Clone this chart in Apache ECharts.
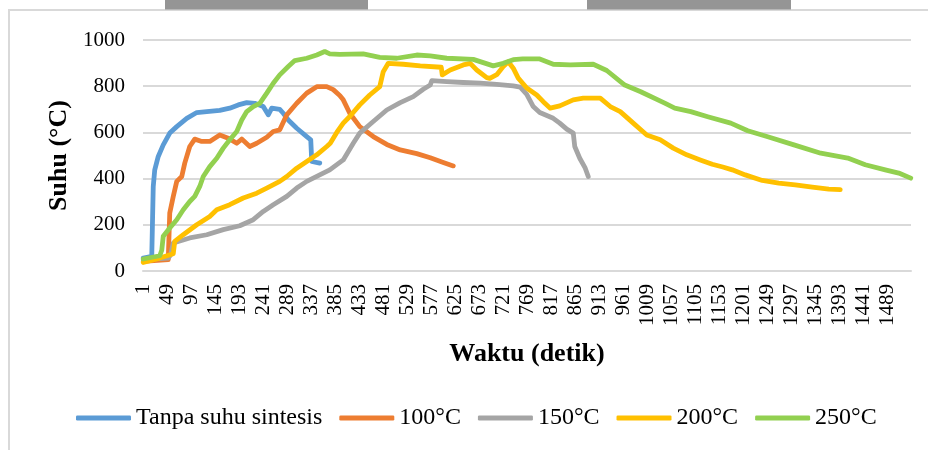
<!DOCTYPE html>
<html>
<head>
<meta charset="utf-8">
<script src="https://cdn.jsdelivr.net/npm/echarts@6/dist/echarts.min.js"></script>
<style>
html,body{margin:0;padding:0;background:#fff;}
#chart{width:928px;height:450px;}
</style>
</head>
<body>
<div id="chart"></div>
<script>
// Category axis: seconds 1..1536
const categoryCount = 1536;
const categories = Array.from({length: categoryCount}, (_, i) => String(i + 1));

const seriesNames = ['Tanpa suhu sintesis', '100°C', '150°C', '200°C', '250°C'];

// [second, temperature °C]
const tanpaSuhu = [[1,56],[18,63],[20,70],[21,366],[24,438],[31,496],[41,546],[54,597],[68,625],[88,661],[108,686],[128,690],[154,695],[174,705],[191,719],[208,729],[224,726],[241,712],[251,676],[258,705],[274,700],[281,683],[291,654],[308,618],[328,582],[336,568],[338,474],[354,467]];

const suhu100 = [[1,42],[51,49],[54,251],[61,323],[68,388],[78,409],[84,467],[94,539],[104,571],[118,561],[134,561],[154,589],[171,575],[188,553],[198,571],[214,539],[228,553],[248,579],[261,604],[274,611],[288,676],[308,726],[328,770],[348,798],[368,798],[381,785],[394,760],[401,741],[414,683],[434,625],[461,582],[488,548],[515,524],[548,508],[575,490],[601,470],[621,455]];

const suhu150 = [[1,49],[51,56],[56,70],[58,92],[61,121],[94,143],[128,157],[161,179],[194,196],[221,222],[241,258],[261,287],[288,323],[308,359],[328,388],[354,416],[374,438],[401,481],[421,553],[434,597],[461,647],[488,697],[515,729],[541,755],[561,787],[575,805],[578,824],[608,820],[641,816],[675,813],[708,808],[741,801],[755,796],[768,765],[781,712],[794,686],[821,661],[834,640],[848,614],[861,597],[864,539],[874,488],[885,445],[891,409]];

const suhu200 = [[1,37],[34,56],[61,75],[64,128],[81,157],[108,200],[134,236],[148,265],[174,287],[201,316],[228,337],[248,359],[274,388],[288,409],[308,445],[328,474],[348,503],[368,539],[375,553],[388,600],[401,640],[414,669],[434,719],[454,762],[474,798],[481,863],[491,899],[521,895],[555,888],[597,882],[599,849],[615,870],[641,892],[655,899],[668,870],[688,837],[694,834],[708,850],[721,885],[731,906],[741,878],[751,835],[768,792],[788,762],[801,733],[815,705],[834,715],[861,741],[881,748],[915,748],[935,712],[955,690],[981,640],[1008,589],[1035,568],[1061,532],[1088,503],[1115,481],[1139,462],[1160,450],[1179,438],[1205,416],[1239,392],[1272,380],[1305,373],[1339,363],[1372,354],[1395,352]];

const suhu250 = [[1,52],[34,66],[38,90],[41,150],[54,186],[68,222],[81,265],[94,301],[104,323],[114,366],[121,409],[134,452],[148,488],[161,532],[174,568],[188,604],[198,654],[208,690],[221,712],[234,726],[248,770],[261,813],[274,849],[291,885],[304,911],[328,921],[348,935],[364,950],[374,940],[394,938],[441,940],[474,925],[508,921],[548,935],[575,931],[608,921],[661,916],[701,888],[721,899],[741,915],[760,918],[794,918],[821,895],[855,892],[901,895],[928,868],[964,805],[996,776],[1044,727],[1064,705],[1096,690],[1130,668],[1176,640],[1210,607],[1250,581],[1304,545],[1356,510],[1410,489],[1445,460],[1485,438],[1512,424],[1536,402]];

const yTicks = {min: 0, max: 1000, interval: 200};
const colors = ['#5B9BD5', '#ED7D31', '#A5A5A5', '#FFC000', '#92D050'];
const seriesData = [tanpaSuhu, suhu100, suhu150, suhu200, suhu250];

const FONT = '"Liberation Serif", "Times New Roman", serif';

const chart = echarts.init(document.getElementById('chart'), null, {renderer: 'canvas'});
chart.setOption({
  animation: false,
  backgroundColor: '#fff',
  color: colors,
  graphic: [
    {type: 'rect', z: 0, shape: {x: 9, y: 10, width: 1000, height: 500}, style: {fill: 'none', stroke: '#D9D9D9', lineWidth: 2}},
    {type: 'rect', z: 1, shape: {x: 165, y: 0, width: 203, height: 9.5}, style: {fill: '#959595'}},
    {type: 'rect', z: 1, shape: {x: 587, y: 0, width: 204, height: 9.5}, style: {fill: '#959595'}}
  ],
  grid: {left: 143, right: 17, top: 40, bottom: 179, containLabel: false},
  legend: {
    left: 76, top: 406, padding: 0,
    icon: 'roundRect', itemWidth: 55, itemHeight: 5, itemGap: 17,
    textStyle: {fontFamily: FONT, fontSize: 24, color: '#000'},
    data: seriesNames
  },
  xAxis: {
    type: 'category',
    data: categories,
    boundaryGap: true,
    name: 'Waktu (detik)',
    nameLocation: 'middle',
    nameGap: 70,
    nameTextStyle: {fontFamily: FONT, fontSize: 26, fontWeight: 'bold', color: '#000'},
    axisLine: {lineStyle: {color: '#D9D9D9', width: 2}},
    axisTick: {show: false},
    axisLabel: {interval: 47, rotate: 90, margin: 13, fontFamily: FONT, fontSize: 21, color: '#000'},
    splitLine: {show: false}
  },
  yAxis: {
    type: 'value',
    min: yTicks.min, max: yTicks.max, interval: yTicks.interval,
    name: 'Suhu (°C)',
    nameLocation: 'middle',
    nameGap: 66,
    nameTextStyle: {fontFamily: FONT, fontSize: 26, fontWeight: 'bold', color: '#000'},
    axisLine: {show: false},
    axisTick: {show: false},
    axisLabel: {margin: 18, fontFamily: FONT, fontSize: 21, color: '#000', formatter: v => String(v)},
    splitLine: {lineStyle: {color: '#D9D9D9', width: 2}}
  },
  series: seriesNames.map((name, k) => ({
    name: name,
    type: 'line',
    data: seriesData[k].map(p => [p[0] - 1, p[1]]),
    showSymbol: false,
    symbol: 'none',
    lineStyle: {width: 4.8, color: colors[k], cap: 'round', join: 'round'},
    itemStyle: {color: colors[k]},
    z: 2 + k
  }))
});
</script>
</body>
</html>
